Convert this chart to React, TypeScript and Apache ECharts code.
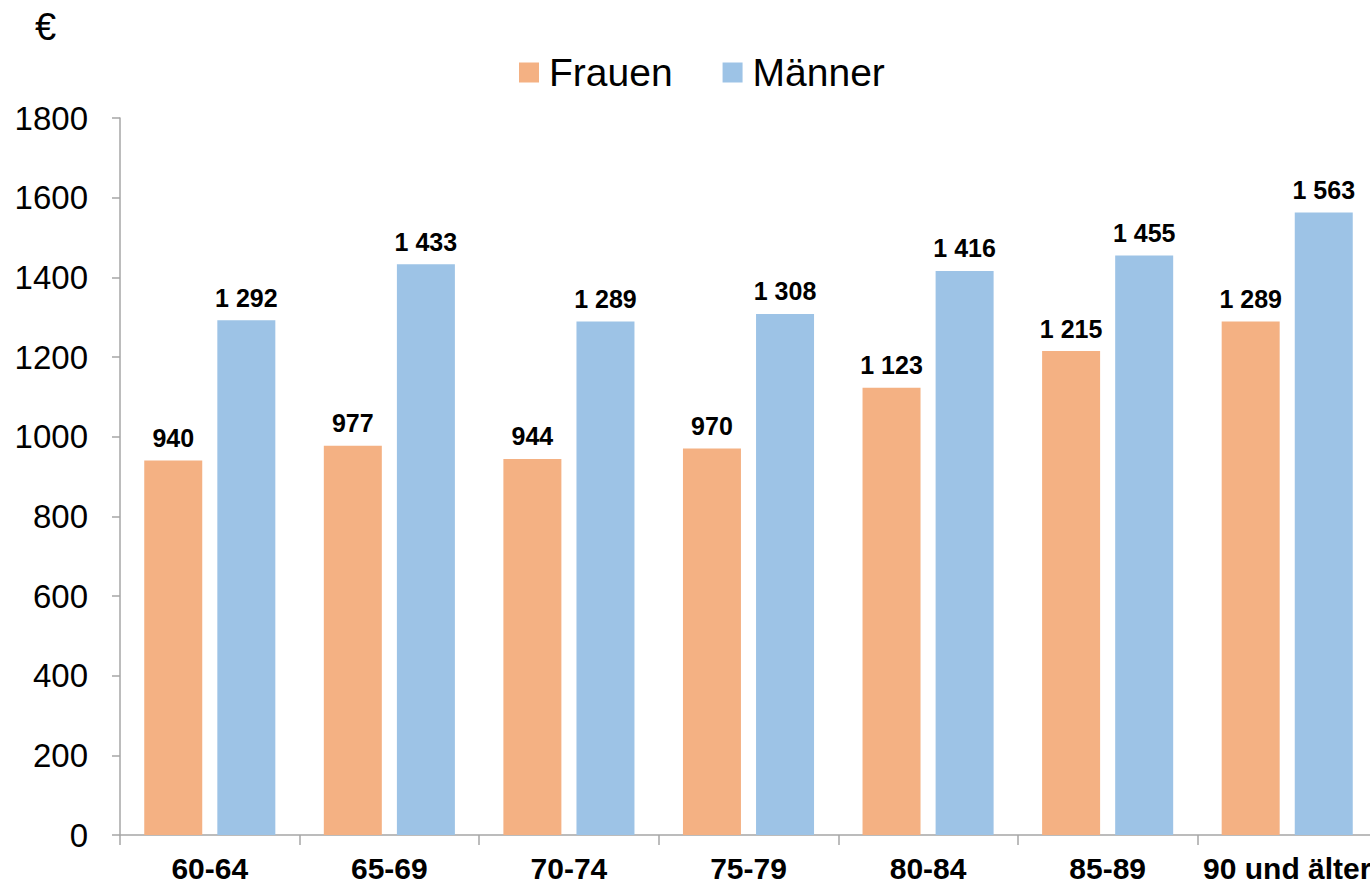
import React, { useEffect, useRef } from "react";
import * as echarts from "echarts";

const categories = ["60-64", "65-69", "70-74", "75-79", "80-84", "85-89", "90 und älter"];
const frauen = [940, 977, 944, 970, 1123, 1215, 1289];
const maenner = [1292, 1433, 1289, 1308, 1416, 1455, 1563];
const yTicks = { min: 0, max: 1800, interval: 200 };

const fmt = (v: number) => {
  const s = String(Math.round(v));
  return s.length > 3 ? s.slice(0, s.length - 3) + " " + s.slice(-3) : s;
};

export default function App() {
  const ref = useRef<HTMLDivElement>(null);
  useEffect(() => {
    if (!ref.current) return;
    const chart = echarts.init(ref.current, null, { renderer: "svg" });
    const font = "'Liberation Sans', Arial, sans-serif";
    const label = {
      show: true,
      position: "top",
      distance: 10,
      color: "#000",
      fontWeight: "bold",
      fontSize: 25,
      fontFamily: font,
      formatter: (p: any) => fmt(p.value),
    };
    chart.setOption({
      animation: false,
      backgroundColor: "#fff",
      textStyle: { fontFamily: font },
      graphic: [
        {
          type: "text",
          left: 35,
          top: 8,
          style: { text: "€", fontSize: 38, fill: "#000", fontFamily: font },
        },
      ],
      legend: {
        left: 514,
        top: 48,
        itemWidth: 20,
        itemHeight: 20,
        itemGap: 50,
        icon: "rect",
        textStyle: { fontSize: 39, color: "#000", fontFamily: font, padding: [0, 0, 0, 5] },
        data: ["Frauen", "Männer"],
      },
      grid: { left: 120, right: 3, top: 118, bottom: 51, containLabel: false },
      xAxis: {
        type: "category",
        data: categories,
        axisLine: { lineStyle: { color: "#a6a6a6", width: 1.5 } },
        axisTick: { show: true, length: 10, lineStyle: { color: "#a6a6a6", width: 1.5 } },
        axisLabel: {
          color: "#000",
          fontWeight: "bold",
          fontSize: 30,
          fontFamily: font,
          margin: 18,
          interval: 0,
        },
      },
      yAxis: {
        type: "value",
        min: yTicks.min,
        max: yTicks.max,
        interval: yTicks.interval,
        splitLine: { show: false },
        axisLine: { show: true, lineStyle: { color: "#a6a6a6", width: 1.5 } },
        axisTick: { show: true, length: 8, lineStyle: { color: "#a6a6a6", width: 1.5 } },
        axisLabel: {
          color: "#000",
          fontSize: 33,
          fontFamily: font,
          margin: 32,
          formatter: (v: number) => String(v),
        },
      },
      series: [
        {
          name: "Frauen",
          type: "bar",
          data: frauen,
          barWidth: 58,
          barGap: "26%",
          itemStyle: { color: "#F4B183" },
          label,
        },
        {
          name: "Männer",
          type: "bar",
          data: maenner,
          barWidth: 58,
          itemStyle: { color: "#9DC3E6" },
          label,
        },
      ],
    });
    return () => chart.dispose();
  }, []);
  return (
    <div
      style={{
        position: "absolute",
        left: 0,
        top: 0,
        width: 1370,
        height: 886,
        overflow: "hidden",
      }}
    >
      <div ref={ref} style={{ width: 1380, height: 886 }} />
    </div>
  );
}
